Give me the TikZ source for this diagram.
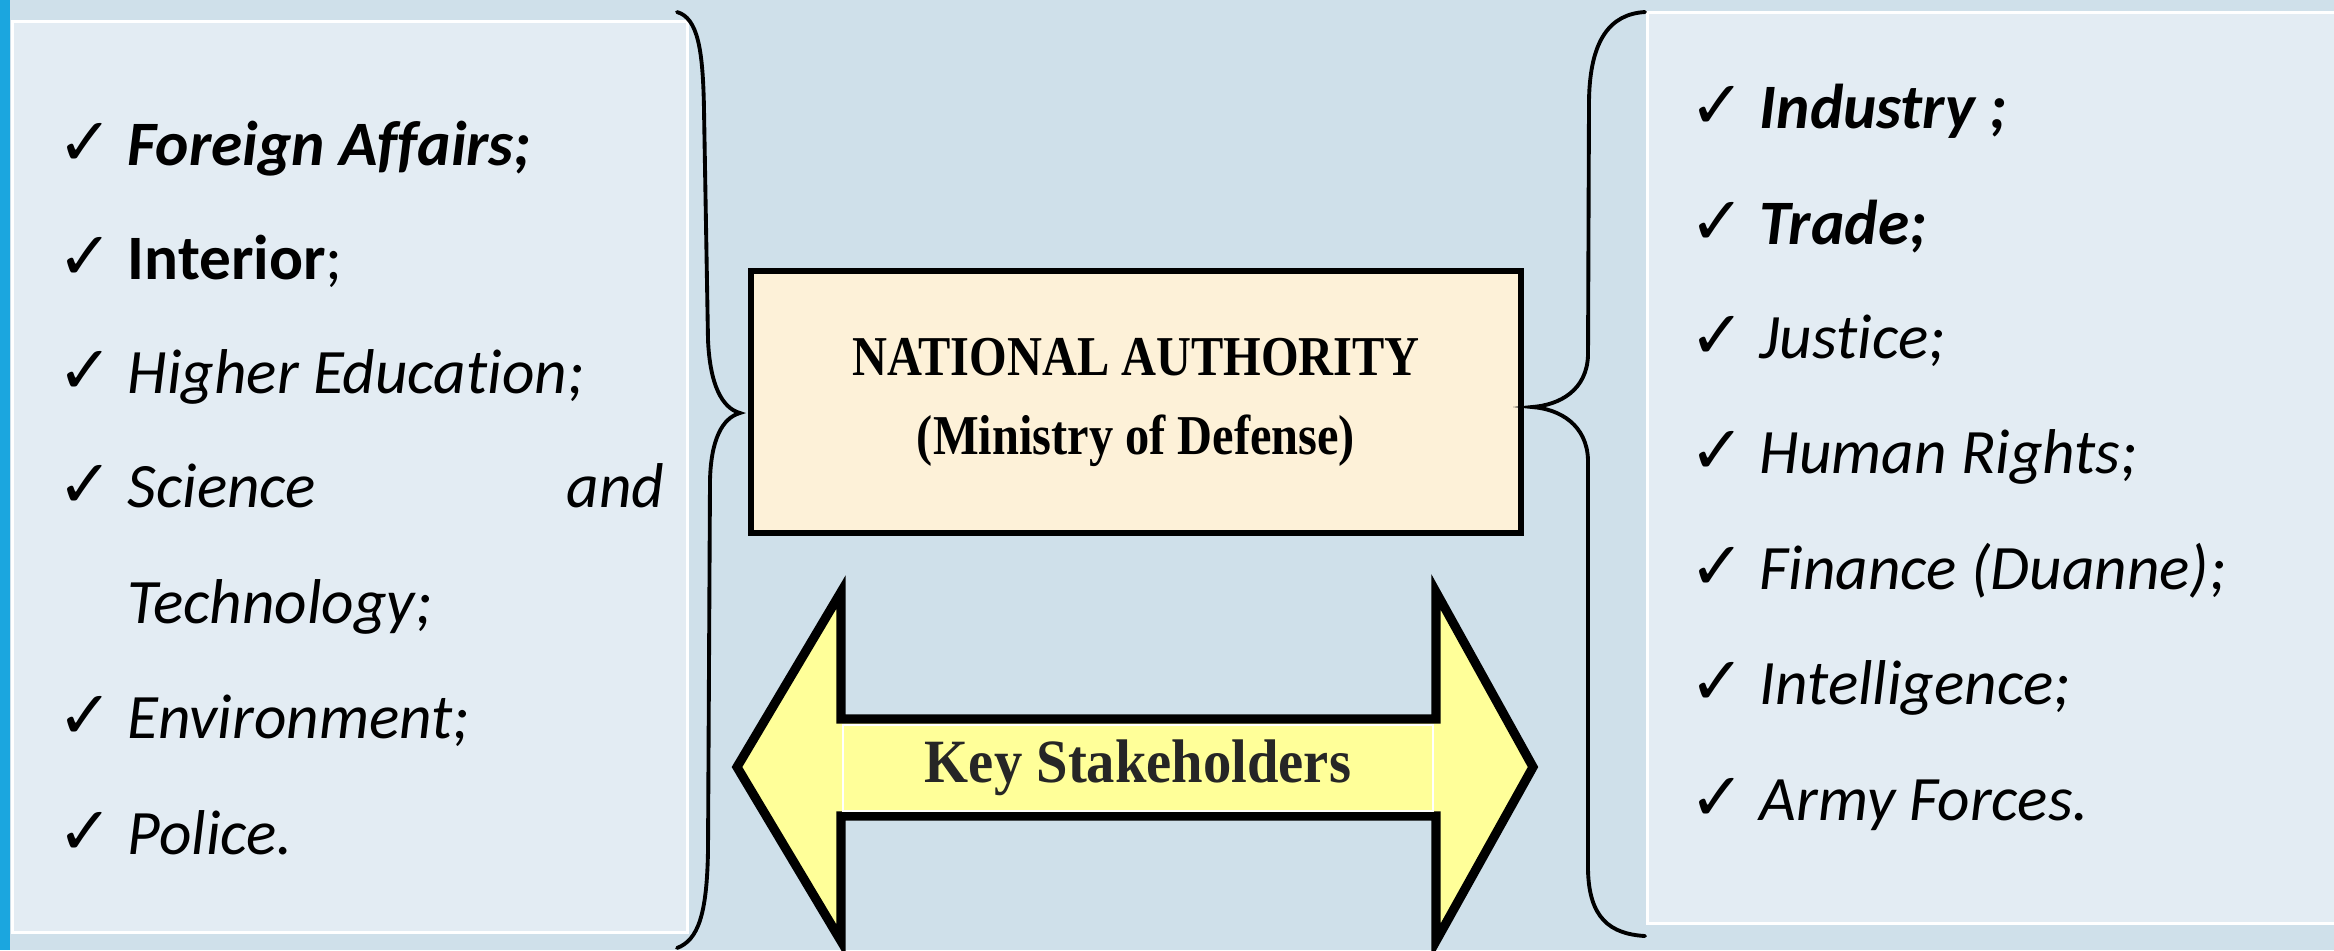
\documentclass[tikz,border=0pt]{standalone}
\usepackage{fontspec}
\setmainfont{Carlito}[Ligatures=NoCommon]
\newfontfamily\titlefont{Liberation Serif}[FakeStretch=0.86]
\newfontfamily\keyfont{Liberation Serif}[FakeStretch=0.92]
\newfontfamily\tickfont{DejaVu Sans}
\usepackage{xcolor}

\definecolor{bgblue}{RGB}{207,224,234}
\definecolor{stripblue}{RGB}{27,166,223}
\definecolor{panelfill}{RGB}{227,236,243}
\definecolor{parchment}{RGB}{253,241,216}
\definecolor{arrowyellow}{RGB}{255,255,153}
\definecolor{keygray}{RGB}{38,38,38}

\newcommand{\tickmark}{\makebox[0.70cm][l]{\tickfont\fontsize{19}{20}\selectfont ✓}}

\tikzset{
  panel/.style={draw=white, line width=0.8pt, fill=panelfill, inner sep=0pt},
  item/.style={anchor=base west, inner sep=0pt, font=\fontsize{18}{20}\selectfont},
  brace/.style={line width=1.1pt, line cap=round},
  authbox/.style={draw=black, line width=1.6pt, fill=parchment, align=center,
    minimum width=7.7cm, minimum height=2.62cm,
    font=\titlefont\bfseries\fontsize{16}{22.5}\selectfont},
  keybox/.style={draw=white, line width=0.4pt, fill=arrowyellow, text=keygray,
    minimum width=5.9cm, minimum height=0.86cm,
    font=\keyfont\bfseries\fontsize{17.5}{18}\selectfont},
}

\begin{document}
\begin{tikzpicture}[x=0.01cm, y=-0.01cm]
				\useasboundingbox (0,0) rectangle (2334,950);
				\fill[bgblue] (0,0) rectangle (2334,950);
				\fill[stripblue] (0,0) rectangle (10,950);
				
				% list panels
				\node[panel, minimum width=6.75cm, minimum height=9.11cm] (leftpanel) at (350,477) {};
				\node[panel, minimum width=6.95cm, minimum height=9.11cm] (rightpanel) at (1995,468) {};
				
				% left column
				\node[item] (fa) at (57,165) {\tickmark\textbf{\textit{Foreign Affairs;}}};
				\node[item] (int) at (57,279) {\tickmark\textbf{Interior};};
				\node[item] (he) at (57,393) {\tickmark\textit{Higher Education;}};
				\node[item] (sci) at (57,507) {\tickmark\textit{Science}};
				\node[item, anchor=base east] (sand) at (665,507) {\textit{and}};
				\node[item] (tec) at (127,623) {\textit{Technology;}};
				\node[item] (env) at (57,738) {\tickmark\textit{Environment;}};
				\node[item] (pol) at (57,854) {\tickmark\textit{Police.}};
				
				% right column
				\node[item] (ind) at (1689,128) {\tickmark\textbf{\textit{Industry ;}}};
				\node[item] (tra) at (1689,244) {\tickmark\textbf{\textit{Trade;}}};
				\node[item] (jus) at (1689,358) {\tickmark\textit{Justice;}};
				\node[item] (hr) at (1689,473) {\tickmark\textit{Human Rights;}};
				\node[item] (fin) at (1689,589) {\tickmark\textit{Finance (Duanne);}};
				\node[item] (intel) at (1689,704) {\tickmark\textit{Intelligence;}};
				\node[item] (army) at (1689,820) {\tickmark\textit{Army Forces.}};
				
				% central authority
				\node[authbox] (auth) at (1136,402) {NATIONAL AUTHORITY\\(Ministry of Defense)};
				
				% braces
				\draw[brace] (677,12) .. controls (698,18) and (703,50) .. (704,110)
					-- (708,340) .. controls (710,385) and (722,408) .. (740,413)
					.. controls (722,418) and (711,440) .. (710,480)
					-- (708,850) .. controls (707,915) and (698,940) .. (677,948);
				\draw[brace] (1645,12) .. controls (1610,14) and (1590,40) .. (1589,100)
					-- (1588,355) .. controls (1587,390) and (1560,405) .. (1532,407)
					.. controls (1560,409) and (1587,425) .. (1588,460)
					-- (1588,870) .. controls (1589,918) and (1610,934) .. (1645,936);
				
				% double arrow
				\draw[line width=2.6pt, line join=miter, fill=arrowyellow]
					(737,767) -- (841,592) -- (841,719) -- (1436,719) -- (1436,592)
					-- (1533,767) -- (1436,941) -- (1436,816) -- (841,816) -- (841,941) -- cycle;
				\node[keybox] (key) at (1138,768) {Key Stakeholders};
			\end{tikzpicture}
\end{document}
